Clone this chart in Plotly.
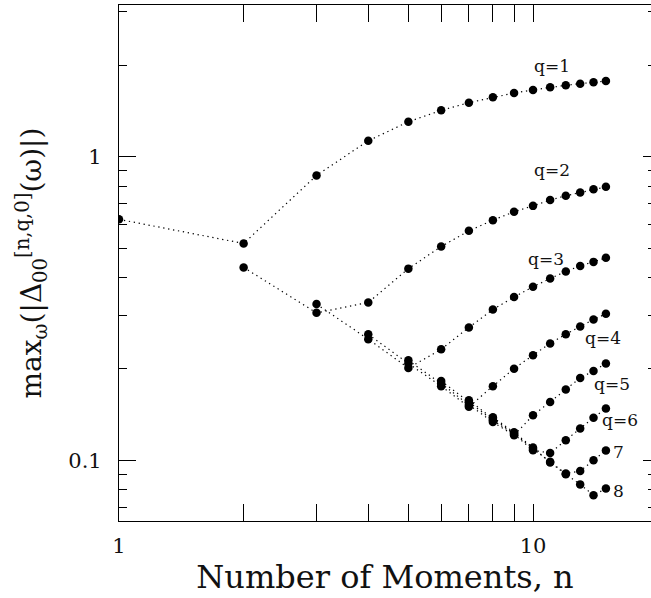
import plotly.graph_objects as go

# Number of moments n on the x axis
moments = list(range(1, 16))

# max over omega of |Delta_00^[n,q,0](omega)|, one curve per q; curve q starts at n = q
q1 = [0.622, 0.518, 0.868, 1.129, 1.304, 1.422, 1.507, 1.570, 1.622, 1.660, 1.694, 1.720, 1.741, 1.759, 1.776]
q2 = [0.432, 0.306, 0.331, 0.428, 0.506, 0.570, 0.618, 0.659, 0.689, 0.720, 0.744, 0.763, 0.781, 0.796]
q3 = [0.327, 0.2506, 0.2013, 0.232, 0.274, 0.314, 0.345, 0.373, 0.397, 0.419, 0.437, 0.4505, 0.4645]
q4 = [0.260, 0.2084, 0.1755, 0.150, 0.1755, 0.2004, 0.222, 0.2426, 0.2603, 0.276, 0.291, 0.3037]
q5 = [0.2134, 0.179, 0.1524, 0.1336, 0.1209, 0.1407, 0.1557, 0.171, 0.1867, 0.197, 0.2084]
q6 = [0.1826, 0.1553, 0.1355, 0.1218, 0.1079, 0.1057, 0.1164, 0.1272, 0.1382, 0.148]
q7 = [0.1577, 0.1371, 0.1227, 0.109, 0.0989, 0.0904, 0.0922, 0.100, 0.1078]
q8 = [0.1386, 0.1236, 0.1101, 0.0984, 0.0900, 0.0833, 0.0767, 0.0807]

curve_labels = ["q=1", "q=2", "q=3", "q=4", "q=5", "q=6", "7", "8"]

x_tick_vals = [1, 10]
x_tick_text = ["1", "10"]
y_tick_vals = [0.1, 1]
y_tick_text = ["0.1", "1"]
x_minor_vals = [2, 3, 4, 5, 6, 7, 8, 9, 20]
y_minor_vals = [0.07, 0.08, 0.09, 0.2, 0.3, 0.4, 0.5, 0.6, 0.7, 0.8, 0.9, 2, 3]

SERIF = "DejaVu Serif"
W, H = 651, 598
ML, MR, MT, MB = 119, 0, 5, 77
PW, PH = W - ML - MR, H - MT - MB

fig = go.Figure()

curves = [q1, q2, q3, q4, q5, q6, q7, q8]
for q, vals in enumerate(curves, start=1):
    fig.add_trace(go.Scatter(
        x=moments[q - 1:q - 1 + len(vals)],
        y=vals,
        mode="lines+markers",
        line=dict(color="black", width=1.2, dash="1.3px,3.7px"),
        marker=dict(color="black", size=8.5, line=dict(width=0)),
        showlegend=False,
        hoverinfo="skip",
    ))

# empty trace so the right-hand tick axis is drawn
fig.add_trace(go.Scatter(x=[], y=[], yaxis="y2", showlegend=False, hoverinfo="skip"))

# curve labels (pixel centres converted to paper coordinates)
label_pos = [(552, 66), (551.5, 170), (546, 259), (603, 338),
             (611.5, 383.5), (620, 420), (618.5, 451.5), (618.5, 490.5)]
for text, (px, py) in zip(curve_labels, label_pos):
    fig.add_annotation(
        x=(px - ML) / PW, y=(H - MB - py) / PH, xref="paper", yref="paper",
        text=text, showarrow=False, xanchor="center", yanchor="middle",
        font=dict(family=SERIF, size=17, color="#111"),
    )

common = dict(
    type="log", showgrid=False, zeroline=False,
    ticks="inside", ticklen=17, tickwidth=1, tickcolor="black",
    linecolor="black", linewidth=1.2,
    tickfont=dict(family=SERIF, size=21, color="#111"),
)

fig.update_layout(
    width=W, height=H,
    margin=dict(l=ML, r=MR, t=MT, b=MB),
    paper_bgcolor="white", plot_bgcolor="white",
    xaxis=dict(
        **common,
        range=[0, 1.285],
        tickmode="array", tickvals=x_tick_vals, ticktext=x_tick_text,
        minor=dict(tickmode="array", tickvals=x_minor_vals, ticks="inside",
                   ticklen=8, tickwidth=1, tickcolor="black"),
        showline=True, mirror="allticks",
        ticklabelstandoff=6,
        title=dict(text="Number of Moments, n", standoff=8,
                   font=dict(family=SERIF, size=32, color="#111")),
    ),
    yaxis=dict(
        **common,
        range=[-1.2, 0.5],
        tickmode="array", tickvals=y_tick_vals, ticktext=y_tick_text,
        minor=dict(tickmode="array", tickvals=y_minor_vals, ticks="inside",
                   ticklen=8, tickwidth=1, tickcolor="black"),
        showline=True, mirror=False,
        ticklabelstandoff=12,
        title=dict(text="max<sub>ω</sub>(|Δ<sub>00</sub><sup>[n,q,0]</sup>(ω)|)",
                   standoff=18, font=dict(family=SERIF, size=28, color="#111")),
    ),
    yaxis2=dict(
        type="log", overlaying="y", side="right", anchor="x",
        range=[-1.2, 0.5], showgrid=False, zeroline=False, showline=False,
        showticklabels=False,
        ticks="inside", ticklen=8, tickwidth=1, tickcolor="black",
        tickmode="array", tickvals=y_tick_vals,
        minor=dict(tickmode="array", tickvals=y_minor_vals, ticks="inside",
                   ticklen=3, tickwidth=1, tickcolor="black"),
    ),
)

fig.write_html("out.html")
